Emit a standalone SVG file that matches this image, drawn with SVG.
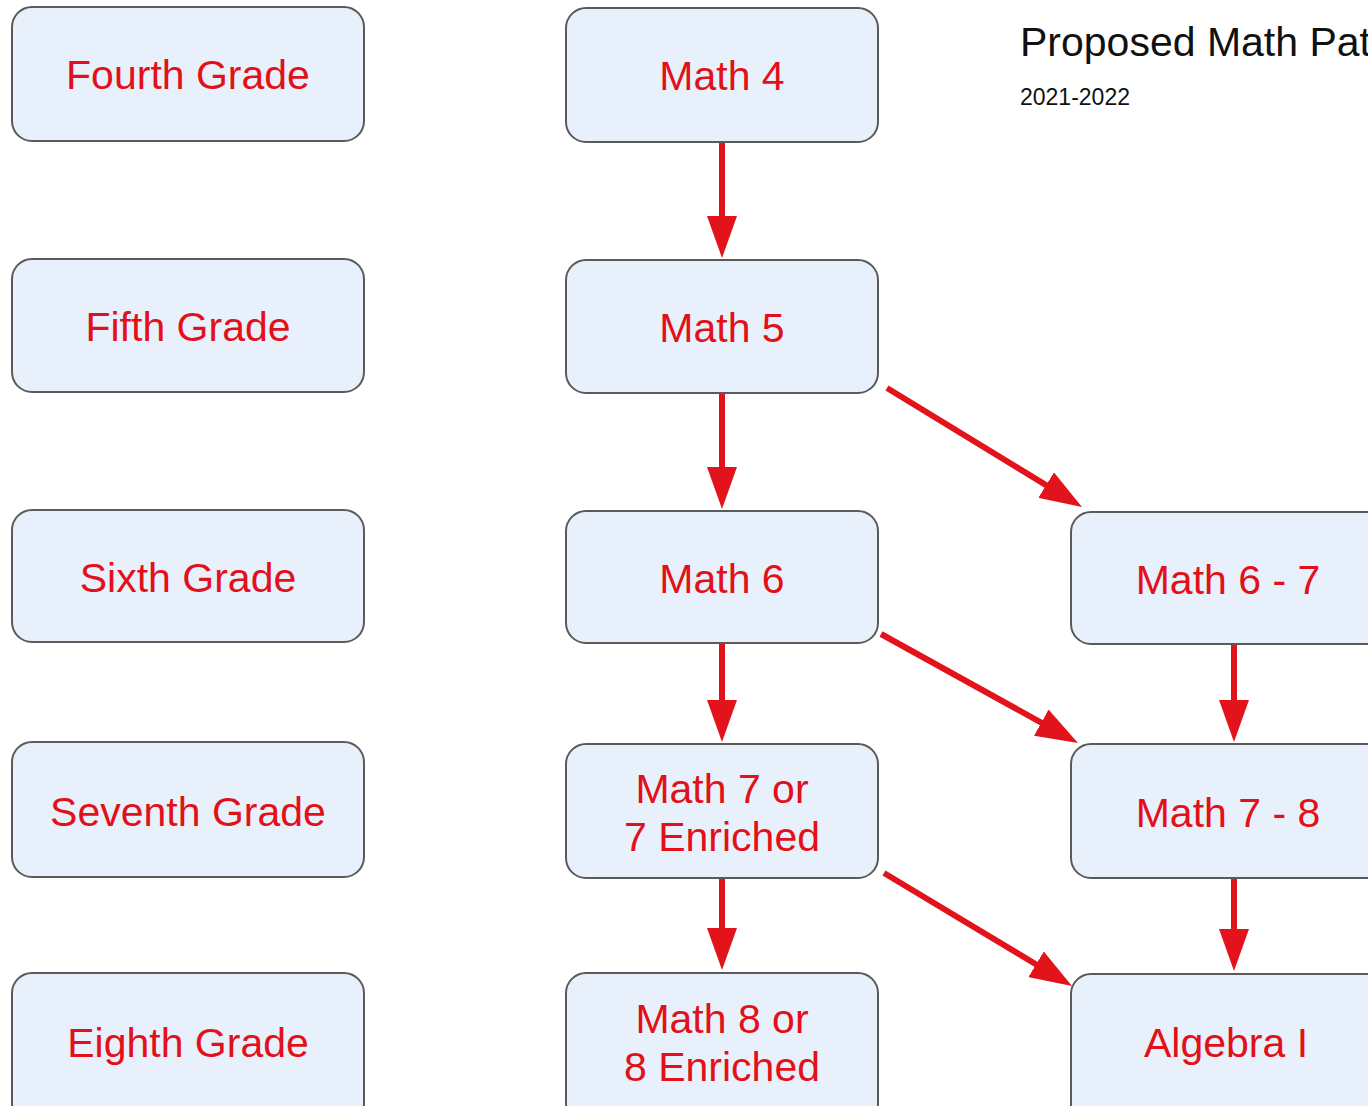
<svg xmlns="http://www.w3.org/2000/svg" width="1368" height="1106" viewBox="0 0 1368 1106">
<style>
.box{fill:#e8f1fb;stroke:#5a5a5a;stroke-width:2}
.lbl{font-family:"Liberation Sans",Arial,sans-serif;font-size:41px;fill:#e3101a;text-anchor:middle}
.conn{stroke:#e3131b;stroke-width:6;fill:none;marker-end:url(#ah)}
.title{font-family:"Liberation Sans",Arial,sans-serif;fill:#111}
</style>
<defs>
<marker id="ah" markerUnits="userSpaceOnUse" viewBox="0 0 42 30" markerWidth="42" markerHeight="30" refX="22" refY="15" orient="auto">
<path d="M0,0 L42,15 L0,30 z" fill="#e3131b"/>
</marker>
</defs>
<rect width="1368" height="1106" fill="#fff"/>
<text class="title" x="1020" y="56" font-size="41">Proposed Math Pat</text>
<text class="title" x="1020" y="105" font-size="23">2021-2022</text>

<g id="connectors">
<line class="conn" x1="722" y1="143" x2="722" y2="238"/>
<line class="conn" x1="722" y1="394" x2="722" y2="489"/>
<line class="conn" x1="722" y1="644" x2="722" y2="722"/>
<line class="conn" x1="722" y1="879" x2="722" y2="950"/>
<line class="conn" x1="1234" y1="645" x2="1234" y2="722"/>
<line class="conn" x1="1234" y1="879" x2="1234" y2="951"/>
<line class="conn" x1="887" y1="388" x2="1064.9" y2="496.6"/>
<line class="conn" x1="881" y1="634" x2="1060.5" y2="733.3"/>
<line class="conn" x1="884" y1="873" x2="1054.9" y2="975.7"/>
</g>

<g id="fourth-grade"><rect class="box" x="12" y="7" width="352" height="134" rx="20"/><text class="lbl" x="188" y="89">Fourth Grade</text></g>
<g id="fifth-grade"><rect class="box" x="12" y="259" width="352" height="133" rx="20"/><text class="lbl" x="188" y="341">Fifth Grade</text></g>
<g id="sixth-grade"><rect class="box" x="12" y="510" width="352" height="132" rx="20"/><text class="lbl" x="188" y="592">Sixth Grade</text></g>
<g id="seventh-grade"><rect class="box" x="12" y="742" width="352" height="135" rx="20"/><text class="lbl" x="188" y="826">Seventh Grade</text></g>
<g id="eighth-grade"><rect class="box" x="12" y="973" width="352" height="150" rx="20"/><text class="lbl" x="188" y="1057">Eighth Grade</text></g>

<g id="math4"><rect class="box" x="566" y="8" width="312" height="134" rx="20"/><text class="lbl" x="722" y="90">Math 4</text></g>
<g id="math5"><rect class="box" x="566" y="260" width="312" height="133" rx="20"/><text class="lbl" x="722" y="342">Math 5</text></g>
<g id="math6"><rect class="box" x="566" y="511" width="312" height="132" rx="20"/><text class="lbl" x="722" y="593">Math 6</text></g>
<g id="math7"><rect class="box" x="566" y="744" width="312" height="134" rx="20"/><text class="lbl" x="722" y="803">Math 7 or</text><text class="lbl" x="722" y="851">7 Enriched</text></g>
<g id="math8"><rect class="box" x="566" y="973" width="312" height="150" rx="20"/><text class="lbl" x="722" y="1033">Math 8 or</text><text class="lbl" x="722" y="1081">8 Enriched</text></g>

<g id="math6-7"><rect class="box" x="1071" y="512" width="330" height="132" rx="20"/><text class="lbl" x="1228" y="594">Math 6 - 7</text></g>
<g id="math7-8"><rect class="box" x="1071" y="744" width="330" height="134" rx="20"/><text class="lbl" x="1228" y="827">Math 7 - 8</text></g>
<g id="algebra1"><rect class="box" x="1071" y="974" width="330" height="150" rx="20"/><text class="lbl" x="1226" y="1057">Algebra I</text></g>
</svg>
